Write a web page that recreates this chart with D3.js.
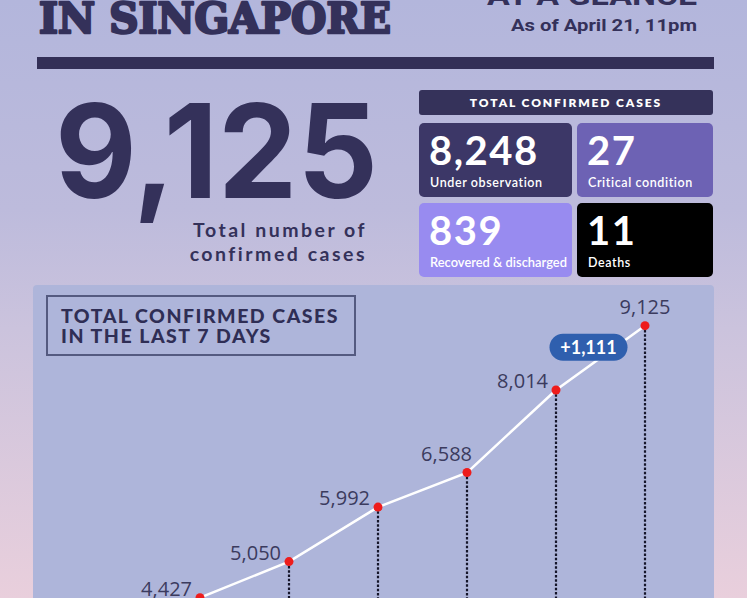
<!DOCTYPE html>
<html>
<head>
<meta charset="utf-8">
<script src="https://cdn.jsdelivr.net/npm/d3@7"></script>
<style>
  html, body { margin: 0; padding: 0; background: #b5b7dc; }
  svg { display: block; }
</style>
</head>
<body>
<svg id="chart" width="747" height="598"></svg>
<script>
'use strict';

// --- data ---
var days = ['Apr 16', 'Apr 17', 'Apr 18', 'Apr 19', 'Apr 20', 'Apr 21'];
var cases = [4427, 5050, 5992, 6588, 8014, 9125];
var labelPlacement = ['left', 'left', 'left', 'upleft', 'left', 'above']; // where each value label sits

var totalCases = 9125;
var statusLabels = ['Under observation', 'Critical condition', 'Recovered & discharged', 'Deaths'];
var statusValues = [8248, 27, 839, 11];
var statusColors = ['#3c3767', '#6d62b4', '#988bf0', '#000000'];

var fmt = d3.format(','),
    ink = '#34315a',
    W = 747, H = 598,
    svg = d3.select('#chart');

// background gradient
var defs = svg.append('defs');
var grad = defs.append('linearGradient')
    .attr('id', 'bg').attr('x1', 0).attr('y1', 0).attr('x2', 0).attr('y2', 1);
[['0', '#b3b6dc'], ['0.35', '#bdbbdc'], ['0.55', '#cbc3dd'], ['1', '#e9cfdc']].forEach(function( s ){
    grad.append('stop').attr('offset', s[0]).attr('stop-color', s[1]);
});
svg.append('rect').attr('width', W).attr('height', H).attr('fill', 'url(#bg)');

// --- header ---
svg.append('text')
    .attr('x', 39).attr('y', 33)
    .attr('textLength', 352).attr('lengthAdjust', 'spacingAndGlyphs')
    .style('font', '900 42px "DejaVu Serif"')
    .attr('fill', ink)
    .attr('stroke', ink).attr('stroke-width', 2.6).attr('stroke-linejoin', 'round')
    .text('IN SINGAPORE');

svg.append('text')
    .attr('x', 697).attr('y', 5)
    .attr('text-anchor', 'end')
    .attr('textLength', 210).attr('lengthAdjust', 'spacingAndGlyphs')
    .style('font', '700 28px Roboto')
    .attr('fill', ink)
    .text('AT A GLANCE');

svg.append('text')
    .attr('x', 697).attr('y', 31)
    .attr('text-anchor', 'end')
    .attr('textLength', 186).attr('lengthAdjust', 'spacingAndGlyphs')
    .style('font', '700 17px Roboto')
    .attr('fill', ink)
    .text('As of April 21, 11pm');

svg.append('rect')
    .attr('x', 37).attr('y', 57).attr('width', 677).attr('height', 12)
    .attr('fill', '#332f57');

// --- big total ---
svg.append('text')
    .attr('x', 55).attr('y', 198)
    .attr('textLength', 323).attr('lengthAdjust', 'spacingAndGlyphs')
    .style('font', '700 130px Inter')
    .attr('fill', ink)
    .text(fmt(totalCases));

svg.selectAll('text.sub')
    .data(['Total number of', 'confirmed cases'])
    .enter().append('text')
    .attr('class', 'sub')
    .attr('x', 367)
    .attr('y', function( d, i ){ return 237 + i * 24; })
    .attr('text-anchor', 'end')
    .style('font', '700 19.5px Lato')
    .style('letter-spacing', '2.5px')
    .attr('fill', ink)
    .text(function( d ){ return d; });

// --- status boxes ---
svg.append('rect')
    .attr('x', 419).attr('y', 90).attr('width', 294).attr('height', 25)
    .attr('rx', 3).attr('fill', '#35325a');
svg.append('text')
    .attr('x', 566).attr('y', 107)
    .attr('text-anchor', 'middle')
    .style('font', '800 12px Lato')
    .style('letter-spacing', '1.9px')
    .attr('fill', '#ffffff')
    .text('TOTAL CONFIRMED CASES');

var boxX = [419, 577],
    boxW = [153, 136],
    boxY = [123, 203];

var box = svg.selectAll('g.status')
    .data(statusValues)
    .enter().append('g')
    .attr('class', 'status')
    .attr('transform', function( d, i ){
        return 'translate(' + boxX[i % 2] + ',' + boxY[Math.floor(i / 2)] + ')';
    });

box.append('rect')
    .attr('width', function( d, i ){ return boxW[i % 2]; })
    .attr('height', 74)
    .attr('rx', 5)
    .attr('fill', function( d, i ){ return statusColors[i]; });

box.append('text')
    .attr('x', 10).attr('y', 42)
    .style('font', '700 40px Lato')
    .style('letter-spacing', '1.5px')
    .attr('fill', '#ffffff')
    .text(function( d ){ return fmt(d); });

box.append('text')
    .attr('x', 11).attr('y', 64)
    .style('font', '600 12.5px Lato')
    .style('letter-spacing', '0.6px')
    .attr('fill', '#ffffff')
    .text(function( d, i ){ return statusLabels[i]; })
    .each(function( d, i ){
        // keep long labels inside their box
        var room = boxW[i % 2] - 16;
        if ( this.getComputedTextLength() > room ){
            d3.select(this).style('letter-spacing', null)
                .attr('textLength', room).attr('lengthAdjust', 'spacingAndGlyphs');
        }
    });

// --- line chart panel ---
svg.append('rect')
    .attr('x', 33).attr('y', 285).attr('width', 681).attr('height', 340)
    .attr('rx', 4).attr('fill', '#aeb5da');

svg.append('rect')
    .attr('x', 47).attr('y', 296).attr('width', 308).attr('height', 59)
    .attr('fill', 'none').attr('stroke', '#545a80').attr('stroke-width', 2);

svg.selectAll('text.ttl')
    .data(['TOTAL CONFIRMED CASES', 'IN THE LAST 7 DAYS'])
    .enter().append('text')
    .attr('class', 'ttl')
    .attr('x', 61)
    .attr('y', function( d, i ){ return 323 + i * 20; })
    .style('font', '900 19.5px Lato')
    .style('letter-spacing', '1.5px')
    .attr('fill', '#2f2e55')
    .text(function( d ){ return d; });

var x = d3.scalePoint().domain(days).range([200, 645]),
    y = d3.scaleLinear().domain([0, 10000]).range([854, 275]);

var pts = cases.map(function( v, i ){
    return { day: days[i], value: v, place: labelPlacement[i] };
});

// dotted drop lines
svg.selectAll('line.drop')
    .data(pts)
    .enter().append('line')
    .attr('class', 'drop')
    .attr('x1', function( d ){ return x(d.day); })
    .attr('x2', function( d ){ return x(d.day); })
    .attr('y1', function( d ){ return y(d.value); })
    .attr('y2', H + 10)
    .attr('stroke', '#15152a')
    .attr('stroke-width', 2.2)
    .attr('stroke-dasharray', '2.5,1.8');

svg.append('path')
    .datum(pts)
    .attr('fill', 'none')
    .attr('stroke', '#ffffff')
    .attr('stroke-width', 2.5)
    .attr('d', d3.line()
        .x(function( d ){ return x(d.day); })
        .y(function( d ){ return y(d.value); }));

svg.selectAll('circle.pt')
    .data(pts)
    .enter().append('circle')
    .attr('class', 'pt')
    .attr('cx', function( d ){ return x(d.day); })
    .attr('cy', function( d ){ return y(d.value); })
    .attr('r', 4.5)
    .attr('fill', '#ee1c1c');

var labelDx = { left: -8, upleft: 5, above: 0 },
    labelDy = { left: -2, upleft: -12, above: -12 };

svg.selectAll('text.val')
    .data(pts)
    .enter().append('text')
    .attr('class', 'val')
    .attr('x', function( d ){ return x(d.day) + labelDx[d.place]; })
    .attr('y', function( d ){ return y(d.value) + labelDy[d.place]; })
    .attr('text-anchor', function( d ){ return d.place === 'above' ? 'middle' : 'end'; })
    .style('font', '400 20px "Open Sans"')
    .attr('fill', '#3b3b5e')
    .text(function( d ){ return fmt(d.value); });

// change badge on the last segment
var last = pts[pts.length - 1],
    prev = pts[pts.length - 2],
    bx = (x(last.day) + x(prev.day)) / 2 - 12,
    by = (y(last.value) + y(prev.value)) / 2 - 11;

svg.append('rect')
    .attr('x', bx - 39).attr('y', by - 13)
    .attr('width', 78).attr('height', 27)
    .attr('rx', 13.5)
    .attr('fill', '#2f5fae');
svg.append('text')
    .attr('x', bx).attr('y', by + 7)
    .attr('text-anchor', 'middle')
    .style('font', '700 18px Lato')
    .attr('fill', '#ffffff')
    .text('+' + fmt(last.value - prev.value));
</script>
</body>
</html>
